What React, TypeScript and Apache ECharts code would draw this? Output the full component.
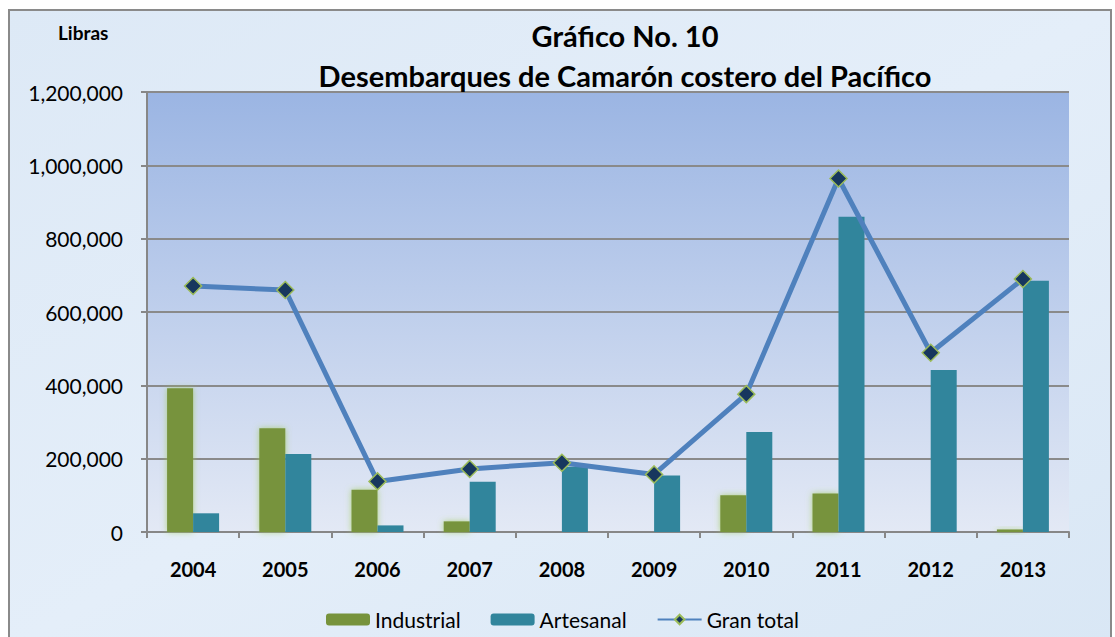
import React, { useEffect, useRef } from "react";
import * as echarts from "echarts";

const years = ["2004", "2005", "2006", "2007", "2008", "2009", "2010", "2011", "2012", "2013"];
const industrial = [392000, 283000, 115000, 29000, 0, 0, 100000, 105000, 0, 7000];
const artesanal = [51000, 213000, 18000, 137000, 178000, 154000, 273000, 860000, 442000, 685000];
const granTotal = [671000, 660000, 138000, 172000, 189000, 157000, 376000, 964000, 489000, 690000];
const yTicks = { min: 0, max: 1200000, interval: 200000 };

const FONT = "Lato, 'Open Sans', sans-serif";

export default function App() {
  const ref = useRef<HTMLDivElement>(null);
  useEffect(() => {
    if (!ref.current) return;
    const chart = echarts.init(ref.current, null, { renderer: "svg" });
    chart.setOption({
      animation: false,
      backgroundColor: "#ffffff",
      graphic: [
        {
          type: "rect",
          z: -10,
          silent: true,
          shape: { x: 9, y: 10, width: 1102, height: 640 },
          style: {
            fill: new echarts.graphic.LinearGradient(0, 0, 1, 1, [
              { offset: 0, color: "#dde9f6" },
              { offset: 0.5, color: "#e4eef9" },
              { offset: 1, color: "#d9e7f5" },
            ]),
            stroke: "#8a8a8a",
            lineWidth: 2,
          },
        },
        {
          type: "text",
          left: 58,
          top: 23,
          style: { text: "Libras", font: `bold 19px ${FONT}`, fill: "#000" },
        },
      ],
      title: {
        text: "Gráfico No. 10\nDesembarques de Camarón costero del Pacífico",
        left: 620,
        textAlign: "center",
        top: 10,
        textStyle: {
          fontFamily: FONT,
          fontWeight: "bold",
          fontSize: 29,
          lineHeight: 40,
          color: "#000",
        },
      },
      legend: {
        left: 321,
        top: 604,
        itemWidth: 44,
        itemHeight: 12,
        itemGap: 30,
        textStyle: { fontFamily: FONT, fontSize: 21, color: "#000" },
        data: ["Industrial", "Artesanal", "Gran total"],
      },
      grid: {
        left: 147,
        top: 92,
        right: 46,
        bottom: 105,
        containLabel: false,
        show: true,
        borderWidth: 0,
        backgroundColor: new echarts.graphic.LinearGradient(0, 0, 0, 1, [
          { offset: 0, color: "#9bb5e3" },
          { offset: 1, color: "#e3e9f5" },
        ]),
      },
      xAxis: {
        type: "category",
        data: years,
        boundaryGap: true,
        axisLine: { lineStyle: { color: "#878787", width: 2 } },
        axisTick: { show: true, length: 6, lineStyle: { color: "#878787", width: 2 } },
        axisLabel: {
          fontFamily: FONT,
          fontWeight: "bold",
          fontSize: 20,
          color: "#000",
          margin: 27,
        },
      },
      yAxis: {
        type: "value",
        min: yTicks.min,
        max: yTicks.max,
        interval: yTicks.interval,
        axisLine: { show: true, lineStyle: { color: "#878787", width: 2 } },
        axisTick: { show: true, length: 6, lineStyle: { color: "#878787", width: 2 } },
        splitLine: { lineStyle: { color: "#8a8a8a", width: 2 } },
        axisLabel: {
          fontFamily: FONT,
          fontSize: 21,
          color: "#000",
          margin: 24,
          formatter: (v: number) => v.toLocaleString("en-US"),
        },
      },
      series: [
        {
          name: "Industrial",
          type: "bar",
          data: industrial,
          barWidth: 26,
          barGap: "0%",
          z: 2,
          itemStyle: {
            color: "#77933c",
            shadowColor: "rgba(155,200,80,0.7)",
            shadowBlur: 6,
          },
        },
        {
          name: "Artesanal",
          type: "bar",
          data: artesanal,
          barWidth: 26,
          barGap: "0%",
          z: 2,
          itemStyle: { color: "#31859c" },
        },
        {
          name: "Gran total",
          type: "line",
          data: granTotal,
          z: 5,
          symbol: "diamond",
          symbolSize: 17,
          lineStyle: { color: "#4f81bd", width: 5 },
          itemStyle: { color: "#17375e", borderColor: "#9bbb59", borderWidth: 1.5 },
        },
      ],
    });
    return () => chart.dispose();
  }, []);
  return (
    <div
      ref={ref}
      style={{ position: "absolute", left: 0, top: 0, width: 1115, height: 637 }}
    />
  );
}
